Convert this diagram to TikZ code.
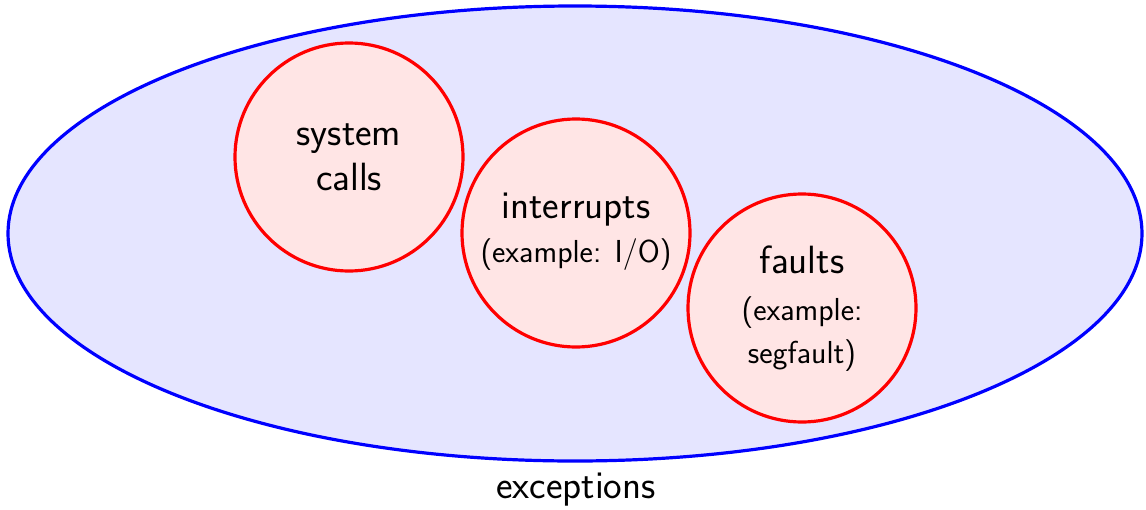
\documentclass[tikz,border=0pt]{standalone}
\usepackage{tikz}
\begin{document}
\begin{tikzpicture}[x=0.5pt,y=-0.5pt,
  outer/.style={draw=blue,fill=blue!10,line width=1.6pt},
  kind/.style={circle,draw=red,fill=red!10,line width=1.6pt,minimum size=114pt,inner sep=0pt},
  big/.style={anchor=base,font=\sffamily\fontsize{19.7}{23}\selectfont,inner sep=0pt},
  small/.style={anchor=base,font=\sffamily\fontsize{15.9}{19}\selectfont,inner sep=0pt}]
  \useasboundingbox (0,0) rectangle (1146,509);
  % the enclosing set of exceptions
  \draw[outer] (575,233.5) ellipse [x radius=567, y radius=227.5];
  \node[big] (exc) at (576,498) {exceptions};
  % the three kinds of exception
  \node[kind] (sys) at (349,157) {};
  \node[kind] (irq) at (576,233) {};
  \node[kind] (flt) at (802,308) {};
  \node[big] (sys1) at (349,145) {system};
  \node[big] (sys2) at (349,190) {calls};
  \node[big] (irq1) at (576,218) {interrupts};
  \node[small] (irq2) at (576,262) {(example: I/O)};
  \node[big] (flt1) at (802,273) {faults};
  \node[small] (flt2) at (802,320) {(example:};
  \node[small] (flt3) at (802,363) {segfault)};
\end{tikzpicture}
\end{document}
